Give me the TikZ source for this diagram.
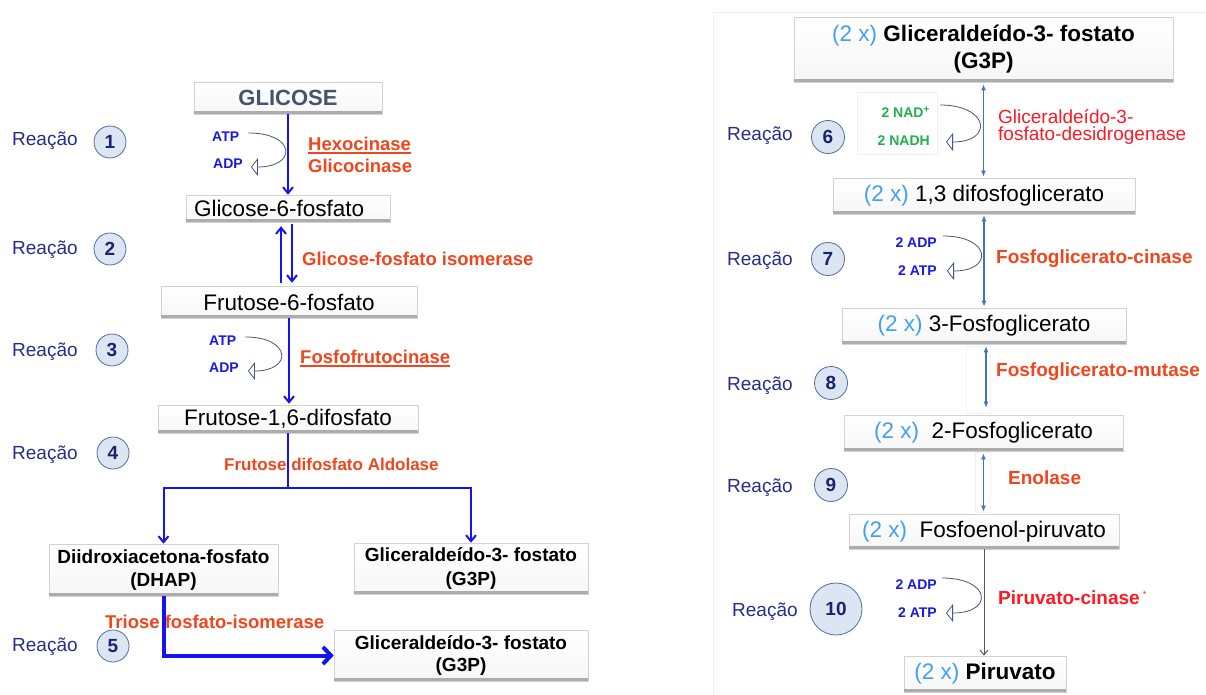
\documentclass[tikz,border=0pt]{standalone}
\usepackage{fontspec}
\setmainfont{Liberation Sans}
\usetikzlibrary{arrows.meta,calc}
\definecolor{blueA}{RGB}{20,20,240}
\definecolor{atpc}{RGB}{25,25,230}
\definecolor{curvec}{RGB}{70,85,130}
\definecolor{enzc}{RGB}{240,70,30}
\definecolor{redc}{RGB}{255,25,35}
\definecolor{reacc}{RGB}{40,45,140}
\definecolor{circf}{RGB}{220,230,242}
\definecolor{circd}{RGB}{80,110,160}
\definecolor{numc}{RGB}{25,35,110}
\definecolor{slate}{RGB}{68,84,106}
\definecolor{lblue}{RGB}{65,160,240}
\definecolor{nadg}{RGB}{35,175,75}
\definecolor{steel}{RGB}{68,114,196}
\definecolor{grayarr}{RGB}{85,85,85}
\tikzset{
  box/.style={draw=gray!35, line width=0.6pt, top color=white, bottom color=gray!7, inner sep=0pt, align=center},
  lbl/.style={font=\fontsize{22.5}{27}\selectfont},
  lbb/.style={font=\bfseries\fontsize{19}{23.5}\selectfont},
  shadeline/.style={gray!65, line width=3pt},
  reac/.style={anchor=west, inner sep=0pt, text=reacc, font=\fontsize{19}{22}\selectfont},
  num/.style={circle, draw=circd, fill=circf, line width=0.8pt, minimum size=32pt, inner sep=0pt, text=numc, font=\bfseries\fontsize{19}{22}\selectfont},
  enz/.style={anchor=west, inner sep=0pt, text=enzc, font=\bfseries\fontsize{18.5}{22}\selectfont},
  cof/.style={inner sep=0pt, text=atpc, font=\bfseries\fontsize{14}{16}\selectfont},
  nad/.style={anchor=east, inner sep=0pt, text=nadg, font=\bfseries\fontsize{14}{16}\selectfont},
  blarrow/.style={draw=blueA, line width=2pt, -{Straight Barb[length=6pt,width=10pt]}},
  curv/.style={draw=curvec, line width=0.8pt, -{Triangle[open,length=7pt,width=18pt,fill=white]}},
  dbl/.style={draw=steel, line width=1.2pt, {Latex[length=6pt,width=5pt]}-{Latex[length=6pt,width=5pt]}},
}
\begin{document}
\begin{tikzpicture}[x=1pt,y=-1pt]
\useasboundingbox (0,0) rectangle (1206,695);
\fill[white] (0,0) rectangle (1206,695);
\draw[gray!12, line width=0.8pt] (713,695) -- (713,12) -- (1206,12);

% ---------------- left boxes ----------------
\node[box, minimum width=188, minimum height=32, text=slate, font=\bfseries\fontsize{22}{26}\selectfont] (glc) at (288,98) {GLICOSE};
\node[box, lbl, minimum width=204, minimum height=27, text width=188, align=left] (g6p) at (288,208.5) {Glicose-6-fosfato};
\node[box, lbl, minimum width=256, minimum height=32] (f6p) at (289,302) {Frutose-6-fosfato};
\node[box, lbl, minimum width=260, minimum height=28] (f16) at (288,419) {Frutose-1,6-difosfato};
\node[box, lbb, minimum width=229, minimum height=52] (dhap) at (163.5,570) {Diidroxiacetona-fosfato\\(DHAP)};
\node[box, lbb, minimum width=234, minimum height=51] (g3pa) at (471,568.5) {Gliceraldeído-3- fostato\\(G3P)};
\node[box, lbb, minimum width=254, minimum height=51, font=\bfseries\fontsize{19}{22.5}\selectfont] (g3pb) at (461,655.5) {Gliceraldeído-3- fostato\\(G3P)};

% ---------------- right boxes ----------------
\node[draw=gray!12, line width=0.6pt, minimum width=80, minimum height=62, inner sep=0pt] (nadbox) at (897,123) {};
\draw[gray!10, line width=0.6pt] (966,346) rectangle (990,413);
\draw[gray!10, line width=0.6pt] (975,452) rectangle (990,512);

\node[box, font=\bfseries\fontsize{22.5}{27}\selectfont, minimum width=379, minimum height=65] (t1) at (983.5,49.5) {{\mdseries\color{lblue}(2 x)} Gliceraldeído-3- fostato\\(G3P)};
\node[box, lbl, minimum width=302, minimum height=36] (b13) at (984,196) {{\color{lblue}(2 x)} 1,3 difosfoglicerato};
\node[box, lbl, minimum width=284, minimum height=36] (p3) at (984,326) {{\color{lblue}(2 x)} 3-Fosfoglicerato};
\node[box, lbl, minimum width=279, minimum height=36] (p2) at (983.5,433) {{\color{lblue}(2 x)}\ \ 2-Fosfoglicerato};
\node[box, lbl, minimum width=270, minimum height=35] (pep) at (984,531.5) {{\color{lblue}(2 x)}\ \ Fosfoenol-piruvato};
\node[box, lbl, minimum width=162, minimum height=36] (pyr) at (985,674) {{\color{lblue}(2 x)} \textbf{Piruvato}};

\foreach \n in {glc,g6p,f6p,f16,dhap,g3pa,g3pb,t1,b13,p3,p2,pep,pyr}
  \draw[shadeline] ([yshift=1.5pt]\n.south west) -- ([yshift=1.5pt]\n.south east);

% ---------------- reaction labels ----------------
\node[reac] (re1) at (12,141) {Reação};
\node[num] (n1) at (110,142) {1};
\node[reac] (re2) at (12,250) {Reação};
\node[num] (n2) at (110,249) {2};
\node[reac] (re3) at (12,352) {Reação};
\node[num] (n3) at (112,350) {3};
\node[reac] (re4) at (12,455) {Reação};
\node[num] (n4) at (113,453) {4};
\node[reac] (re5) at (12,647) {Reação};
\node[num] (n5) at (113,646) {5};
\node[reac] (re6) at (727,136) {Reação};
\node[num, minimum size=33pt] (n6) at (828,137) {6};
\node[reac] (re7) at (727,261) {Reação};
\node[num, minimum size=33pt] (n7) at (828,259) {7};
\node[reac] (re8) at (727,386) {Reação};
\node[num, minimum size=33pt] (n8) at (831,383) {8};
\node[reac] (re9) at (727,488) {Reação};
\node[num, minimum size=33pt] (n9) at (831,485) {9};
\node[reac] (re10) at (732,612) {Reação};
\node[num, minimum size=52pt] (n10) at (836,609) {10};

% ---------------- enzymes ----------------
\node[enz] (hex) at (308,144) {Hexocinase};
\draw[enzc, line width=1.4pt] ([yshift=-2pt]hex.south west) -- ([yshift=-2pt]hex.south east);
\node[enz] (glk) at (308,166) {Glicocinase};
\node[enz] (gpi) at (302,259) {Glicose-fosfato isomerase};
\node[enz] (pfk) at (300,357) {Fosfofrutocinase};
\draw[enzc, line width=1.4pt] ([yshift=-2pt]pfk.south west) -- ([yshift=-2pt]pfk.south east);
\node[enz, font=\bfseries\fontsize{17}{20}\selectfont] (ald) at (224,464) {Frutose difosfato Aldolase};
\node[enz] (tpi) at (105,622) {Triose fosfato-isomerase};

\node[anchor=west, inner sep=0pt, text=redc, align=left, font=\fontsize{19}{17}\selectfont] (gapdh) at (998,127) {Gliceraldeído-3-\\fosfato-desidrogenase};
\node[enz, font=\bfseries\fontsize{19}{22}\selectfont] (pgk) at (996,259) {Fosfoglicerato-cinase};
\node[enz, font=\bfseries\fontsize{19}{22}\selectfont] (pgm) at (996,372) {Fosfoglicerato-mutase};
\node[enz, font=\bfseries\fontsize{19}{22}\selectfont] (eno) at (1008,478) {Enolase};
\node[enz, text=redc, font=\bfseries\fontsize{19}{22}\selectfont] (pk) at (998,598) {Piruvato-cinase\,\raisebox{7pt}{\mdseries\fontsize{9}{9}\selectfont *}};

% ---------------- cofactors ----------------
\node[cof, anchor=west] (atp1) at (212,137) {ATP};
\node[cof, anchor=west] (adp1) at (213,164) {ADP};
\node[cof, anchor=west] (atp3) at (209,341) {ATP};
\node[cof, anchor=west] (adp3) at (209,368) {ADP};
\node[nad] (nadp) at (930,112) {2 NAD\textsuperscript{+}};
\node[nad] (nadh) at (930,141) {2 NADH};
\node[cof, anchor=east] (adp7) at (937,243) {2 ADP};
\node[cof, anchor=east] (atp7) at (937,271) {2 ATP};
\node[cof, anchor=east] (adp10) at (937,585) {2 ADP};
\node[cof, anchor=east] (atp10) at (937,613) {2 ATP};

\draw[curv] ([xshift=9pt,yshift=4pt]atp1.east) .. controls +(48,0) and +(46,0) .. ([xshift=8pt,yshift=-3pt]adp1.east);
\draw[curv] ([xshift=9pt,yshift=4pt]atp3.east) .. controls +(46,0) and +(45,0) .. ([xshift=9pt,yshift=-3pt]adp3.east);
\draw[curv] ([xshift=10pt,yshift=7pt]nadp.east) .. controls +(49,0) and +(48,0) .. ([xshift=16pt,yshift=-1pt]nadh.east);
\draw[curv] ([xshift=6pt,yshift=7pt]adp7.east) .. controls +(48,0) and +(47,0) .. ([xshift=10pt]atp7.east);
\draw[curv] ([xshift=5pt,yshift=7pt]adp10.east) .. controls +(49,0) and +(48,0) .. ([xshift=9pt]atp10.east);

% ---------------- arrows left ----------------
\draw[blarrow] (glc.south) -- (g6p.north);
\draw[blarrow, shorten <=3pt, shorten >=4pt] ([xshift=-8pt]f6p.north) -- ([xshift=-8pt]f6p.north |- g6p.south);
\draw[blarrow, shorten <=2pt, shorten >=3pt] ([xshift=4pt]g6p.south) -- ([xshift=4pt]g6p.south |- f6p.north);
\draw[blarrow, shorten >=1pt] (f6p.south) -- (f6p.south |- f16.north);
\coordinate (split) at (288,488);
\draw[draw=blueA, line width=2pt] (f16.south) -- (split);
\draw[blarrow] (split) -| (dhap.north);
\draw[blarrow] (split) -| (g3pa.north);
\draw[draw=blueA, line width=4pt, -{Straight Barb[length=8pt,width=17pt]}] (dhap.south) |- (g3pb.west);

% ---------------- arrows right ----------------
\draw[dbl, shorten <=2pt, shorten >=1pt] (t1.south) -- (t1.south |- b13.north);
\draw[dbl, shorten <=1pt, shorten >=1pt] (b13.south) -- (b13.south |- p3.north);
\draw[dbl, shorten <=2pt, shorten >=7pt] ([xshift=2pt]p3.south) -- ([xshift=2pt]p3.south |- p2.north);
\draw[dbl, shorten <=2pt, shorten >=2pt] (p2.south) -- (p2.south |- pep.north);
\draw[draw=grayarr, line width=1pt, -{Straight Barb[length=5pt,width=8pt]}] (pep.south) -- (pep.south |- pyr.north);
\end{tikzpicture}
\end{document}
